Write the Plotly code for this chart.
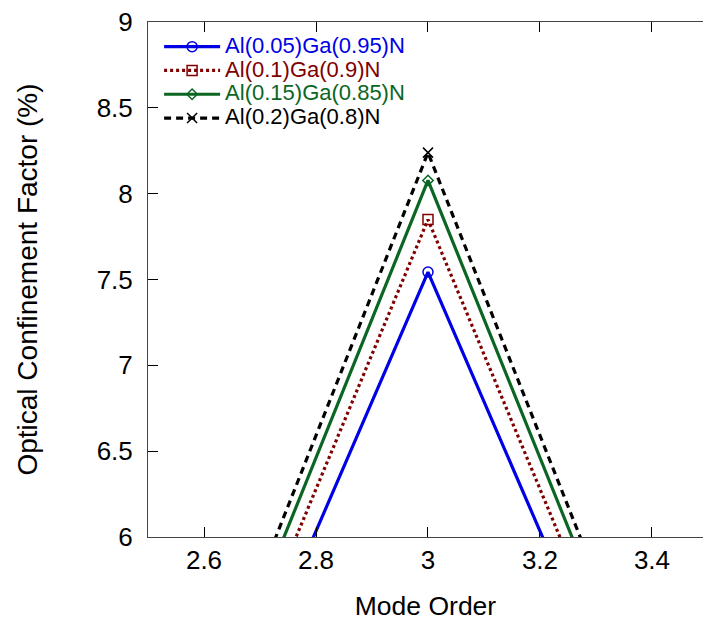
import plotly.graph_objects as go

mode_order = [2, 3, 4]
al005 = [0.0, 7.543, 0.0]
al010 = [0.0, 7.849, 0.0]
al015 = [0.0, 8.077, 0.0]
al020 = [0.0, 8.239, 0.0]

names = ["Al(0.05)Ga(0.95)N", "Al(0.1)Ga(0.9)N", "Al(0.15)Ga(0.85)N", "Al(0.2)Ga(0.8)N"]
series = [al005, al010, al015, al020]
colors = ["#0000e6", "#800000", "#0b6623", "#000000"]
dashes = ["solid", "3px,3px", "solid", "7px,5px"]
symbols = ["circle-open", "square-open", "diamond-open", "x-thin-open"]
msizes = [10, 10, 8, 10]

FONT = "Liberation Sans, Arial, sans-serif"

fig = go.Figure()
for n, s, c, d, sym, ms in zip(names, series, colors, dashes, symbols, msizes):
    fig.add_trace(go.Scatter(
        x=mode_order, y=s, mode="lines+markers",
        name=f"<span style='color:{c};font-size:22px'>{n}</span>",
        line=dict(color=c, width=3.2, dash=d),
        marker=dict(symbol=sym, size=ms, color=c, line=dict(color=c, width=1.5)),
    ))

fig.update_layout(
    width=703, height=627,
    margin=dict(l=148, r=0, t=22, b=90),
    paper_bgcolor="white", plot_bgcolor="white",
    font=dict(family=FONT, color="black"),
    showlegend=True,
    legend=dict(x=0.02, y=0.985, xanchor="left", yanchor="top",
                bgcolor="rgba(0,0,0,0)", borderwidth=0,
                font=dict(size=16, family=FONT), itemwidth=56,
                tracegroupgap=0),
    xaxis=dict(range=[2.5, 3.4911], tickvals=[2.6, 2.8, 3.0, 3.2, 3.4],
               ticktext=["2.6", "2.8", "3", "3.2", "3.4"],
               ticks="inside", ticklen=10, tickcolor="black", tickwidth=1,
               showline=True, linecolor="#444", linewidth=1, mirror="ticks",
               showgrid=False, zeroline=False,
               tickfont=dict(size=26, family=FONT),
               title=dict(text="Mode Order", font=dict(size=26.5, family=FONT), standoff=22)),
    yaxis=dict(range=[6, 9], dtick=0.5, tick0=6,
               ticks="inside", ticklen=10, tickcolor="black", tickwidth=1,
               showline=True, linecolor="#444", linewidth=1, mirror=False,
               showgrid=False, zeroline=False,
               tickfont=dict(size=26, family=FONT), ticklabelstandoff=9,
               title=dict(text="Optical Confinement Factor (%)", font=dict(size=28, family=FONT), standoff=50)),
)

fig.write_html("out.html")
